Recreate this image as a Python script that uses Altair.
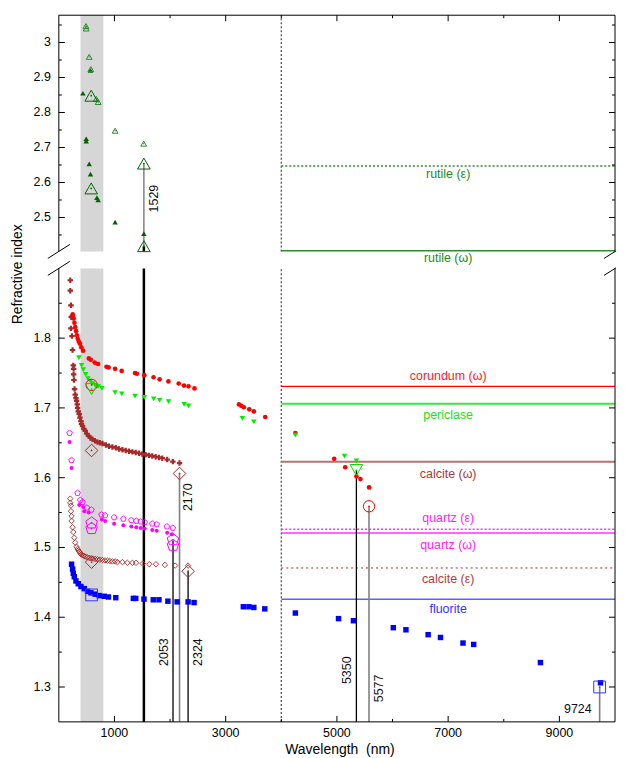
import altair as alt
import pandas as pd

FONT = "Liberation Sans"
W, H_TOP, H_BOT = 558, 237, 455
X_DOMAIN = [0, 10000]
Y_TOP = [2.403, 3.078]
Y_BOT = [1.25, 1.90]

# ---------------- data ----------------
visible_band = [390, 800]
boundary_nm = [4000]

rutile_o_nm = [433, 492, 492, 546, 569, 569, 684, 707, 1012, 1529]
rutile_o_n = [2.855, 2.725, 2.718, 2.653, 2.624, 2.920, 2.557, 2.550, 2.487, 2.454]
rutile_e_nm = [488, 492, 546, 575, 672, 707, 1012, 1526]
rutile_e_n = [3.047, 3.040, 2.959, 2.924, 2.839, 2.830, 2.748, 2.711]
rutile_big_nm = [582, 582, 1529, 1529]
rutile_big_n = [2.848, 2.583, 2.654, 2.418]

corundum_nm = [250, 268, 280, 295, 310, 325, 340, 360, 380, 403, 436, 540, 575, 645, 705,
               856, 895, 1012, 1130, 1370, 1403, 1537, 1702, 1812, 1970, 2155, 2250, 2332,
               2439, 3238, 3281, 3327, 3424, 3506, 3711, 4253, 4951, 5149, 5351, 5423, 5578]
corundum_n = [1.834, 1.828, 1.822, 1.816, 1.810, 1.804, 1.799, 1.795, 1.792, 1.787, 1.782,
              1.771, 1.769, 1.765, 1.763, 1.759, 1.758, 1.756, 1.753, 1.750, 1.749, 1.747,
              1.744, 1.741, 1.738, 1.735, 1.732, 1.731, 1.728, 1.705, 1.703, 1.701, 1.698,
              1.695, 1.687, 1.664, 1.627, 1.615, 1.602, 1.598, 1.586]
corundum_big_nm = [589, 5577]
corundum_big_n = [1.733, 1.559]

periclase_nm = [360, 409, 439, 481, 522, 569, 608, 656, 707, 774, 1012, 1132, 1370, 1537,
                1705, 1812, 1973, 2253, 2332, 3299, 3506, 4253, 5136, 5351]
periclase_n = [1.772, 1.761, 1.755, 1.748, 1.742, 1.738, 1.735, 1.732, 1.731, 1.728, 1.722,
               1.720, 1.717, 1.715, 1.713, 1.711, 1.709, 1.705, 1.703, 1.685, 1.680, 1.661,
               1.631, 1.624]
periclase_big_nm = [589, 5350]
periclase_big_n = [1.727, 1.611]

calcite_o_nm = [206, 206, 218, 224, 242, 218, 236, 247, 260, 266, 266, 272, 283, 295, 308,
                319, 331, 337, 349, 367, 380, 398, 408, 426, 451, 475, 505, 534, 569, 605,
                648, 695, 738, 784, 845, 904, 963, 1024, 1083, 1143, 1203, 1263, 1322, 1383,
                1442, 1501, 1561, 1621, 1680, 1741, 1800, 1859, 1948, 2050, 2170]
calcite_o_n = [1.883, 1.868, 1.847, 1.830, 1.832, 1.814, 1.803, 1.783, 1.761, 1.756, 1.748,
               1.740, 1.727, 1.719, 1.714, 1.710, 1.705, 1.700, 1.695, 1.691, 1.686, 1.681,
               1.677, 1.674, 1.670, 1.667, 1.663, 1.660, 1.657, 1.655, 1.653, 1.651, 1.650,
               1.649, 1.647, 1.645, 1.644, 1.643, 1.641, 1.640, 1.639, 1.638, 1.637, 1.636,
               1.635, 1.634, 1.633, 1.632, 1.631, 1.630, 1.629, 1.628, 1.626, 1.623, 1.621]
calcite_e_nm = [206, 206, 218, 218, 229, 229, 247, 260, 278, 295, 319, 337, 349, 367, 385,
                403, 426, 451, 475, 510, 546, 582, 618, 655, 695, 738, 784, 830, 874, 918,
                963, 1012, 1053, 1143, 1232, 1322, 1388, 1508, 1626, 1746, 1907, 2092, 2324]
calcite_e_n = [1.570, 1.564, 1.560, 1.552, 1.545, 1.538, 1.529, 1.522, 1.514, 1.507, 1.501,
               1.498, 1.496, 1.494, 1.492, 1.490, 1.489, 1.488, 1.487, 1.486, 1.485, 1.4845,
               1.484, 1.4835, 1.483, 1.4825, 1.482, 1.4815, 1.481, 1.4805, 1.480, 1.480,
               1.479, 1.479, 1.478, 1.478, 1.478, 1.477, 1.476, 1.476, 1.475, 1.474, 1.474]
calcite_big_nm = [589, 589, 2170, 2324]
calcite_big_n = [1.639, 1.479, 1.606, 1.466]

quartz_e_nm = [193, 229, 337, 385, 426, 505, 587, 766, 833, 994, 1160, 1304, 1393, 1472,
               1544, 1680, 1759, 1943, 2050]
quartz_e_n = [1.664, 1.625, 1.578, 1.568, 1.565, 1.557, 1.554, 1.547, 1.546, 1.543, 1.541,
              1.539, 1.538, 1.537, 1.536, 1.534, 1.533, 1.530, 1.528]
quartz_o_nm = [193, 229, 367, 439, 457, 534, 774, 833, 994, 1160, 1304, 1393, 1472, 1544,
               1680, 1759, 1948, 2033]
quartz_o_n = [1.651, 1.614, 1.561, 1.558, 1.552, 1.550, 1.540, 1.538, 1.534, 1.532, 1.530,
              1.529, 1.528, 1.527, 1.525, 1.524, 1.521, 1.519]
quartz_big_nm = [589, 589, 2053, 2053]
quartz_big_n = [1.535, 1.527, 1.511, 1.503]

fluorite_nm = [229, 247, 260, 278, 308, 349, 398, 457, 516, 577, 654, 725, 815, 892, 1024,
               1340, 1383, 1531, 1698, 1800, 1961, 2127, 2324, 2432, 3317, 3417, 3506, 3703,
               4253, 5029, 5297, 6014, 6241, 6640, 6862, 7267, 7459, 8659, 9739]
fluorite_n = [1.476, 1.469, 1.463, 1.458, 1.452, 1.448, 1.444, 1.441, 1.437, 1.435, 1.433,
              1.431, 1.430, 1.429, 1.428, 1.427, 1.427, 1.426, 1.425, 1.425, 1.423, 1.422,
              1.422, 1.421, 1.415, 1.415, 1.414, 1.412, 1.406, 1.398, 1.395, 1.385, 1.382,
              1.375, 1.371, 1.363, 1.361, 1.335, 1.306]
fluorite_big_nm = [589, 9724]
fluorite_big_n = [1.432, 1.300]

ref_names = ["corundum (ω)", "periclase", "calcite (ω)", "quartz (ε)", "quartz (ω)",
             "calcite (ε)", "fluorite"]
ref_n = [1.731, 1.706, 1.623, 1.526, 1.5206, 1.4706, 1.4257]
rutile_ref_names = ["rutile (ε)", "rutile (ω)"]
rutile_ref_n = [2.647, 2.405]

mark_nm = [2053, 2170, 2324, 5350, 5577, 9724]
mark_n = [1.510, 1.606, 1.466, 1.611, 1.559, 1.300]
mark_labels = ["2053", "2170", "2324", "5350", "5577", "9724"]
rutile_mark_nm = [1529]
rutile_mark_n = [2.418, 2.654]

top_major = [2.5, 2.6, 2.7, 2.8, 2.9, 3.0]
top_minor = [2.45, 2.55, 2.65, 2.75, 2.85, 2.95, 3.05]
bot_major = [1.3, 1.4, 1.5, 1.6, 1.7, 1.8]
bot_minor = [1.35, 1.45, 1.55, 1.65, 1.75, 1.85]
x_major = [1000, 3000, 5000, 7000, 9000]
x_minor = [2000, 4000, 6000, 8000]
y_title = "Refractive index"
x_title = "Wavelength\u00a0\u00a0(nm)"

# ---------------- helpers ----------------
PENTAGON = "M0,-1L0.951,-0.309L0.588,0.809L-0.588,0.809L-0.951,-0.309Z"
LABEL_X = 7000


def xsc():
    return alt.Scale(domain=X_DOMAIN, nice=False, zero=False)


def ysc(dom):
    return alt.Scale(domain=dom, nice=False, zero=False)


def XF(f):
    return alt.X(f, type="quantitative", scale=xsc(), axis=None)


def YF(f, dom):
    return alt.Y(f, type="quantitative", scale=ysc(dom), axis=None)


def points(nm, n, dom, shape, size, color, filled, sw=1.0):
    df = pd.DataFrame({"nm": nm, "n": n})
    if filled:
        m = alt.Chart(df).mark_point(shape=shape, size=size, filled=True, color=color,
                                     opacity=1, strokeWidth=0)
    else:
        m = alt.Chart(df).mark_point(shape=shape, size=size, filled=False, color=color,
                                     opacity=1, strokeWidth=sw)
    return m.encode(x=XF("nm"), y=YF("n", dom))


def big(nm, n, dom, shape, size, color):
    return [points(nm, n, dom, shape, size, color, False, 1.0),
            points(nm, n, dom, "circle", 3, color, True)]


def vspan(xv, dom, **mk):
    df = pd.DataFrame({"x": xv, "y0": [dom[0]] * len(xv), "y1": [dom[1]] * len(xv)})
    return alt.Chart(df).mark_rule(**mk).encode(x=XF("x"), y=YF("y0", dom), y2="y1")


def band(dom):
    df = pd.DataFrame({"a": [visible_band[0]], "b": [visible_band[1]],
                       "y0": [dom[0]], "y1": [dom[1]]})
    return alt.Chart(df).mark_rect(color="#d6d6d6").encode(
        x=XF("a"), x2="b", y=YF("y0", dom), y2="y1")


def refline(name, n, dom, color, width, dash, lcolor, dy):
    df = pd.DataFrame({"name": [name], "n": [n], "x0": [boundary_nm[0]],
                       "x1": [X_DOMAIN[1]], "lx": [LABEL_X]})
    kw = dict(color=color, strokeWidth=width)
    if dash:
        kw["strokeDash"] = dash
    rule = alt.Chart(df).mark_rule(**kw).encode(x=XF("x0"), x2="x1", y=YF("n", dom))
    txt = alt.Chart(df).mark_text(font=FONT, fontSize=12.5, color=lcolor, dy=dy,
                                  baseline="middle").encode(
        x=XF("lx"), y=YF("n", dom), text="name:N")
    return [rule, txt]


def ticks_y(vals, dom, side, size):
    xv = X_DOMAIN[0] if side == "left" else X_DOMAIN[1]
    off = size if side == "left" else -size
    df = pd.DataFrame({"v": vals, "x": [xv] * len(vals)})
    return alt.Chart(df).mark_rule(color="black", strokeWidth=1, x2Offset=off).encode(
        x=XF("x"), x2="x", y=YF("v", dom))


def ticks_x(vals, dom, side, size):
    yv = dom[1] if side == "top" else dom[0]
    off = size if side == "top" else -size
    df = pd.DataFrame({"v": vals, "y": [yv] * len(vals)})
    return alt.Chart(df).mark_rule(color="black", strokeWidth=1, y2Offset=off).encode(
        x=XF("v"), y=YF("y", dom), y2="y")


def ylabels(vals, dom):
    df = pd.DataFrame({"v": vals, "x": [X_DOMAIN[0]] * len(vals),
                       "t": [f"{v:g}" for v in vals]})
    return alt.Chart(df).mark_text(font=FONT, fontSize=12.5, color="black", align="right",
                                   baseline="middle", dx=-8).encode(
        x=XF("x"), y=YF("v", dom), text="t:N")


def xlabels(vals, dom):
    df = pd.DataFrame({"v": vals, "y": [dom[0]] * len(vals), "t": [f"{v:d}" for v in vals]})
    return alt.Chart(df).mark_text(font=FONT, fontSize=12.5, color="black", align="center",
                                   baseline="top", dy=5).encode(
        x=XF("v"), y=YF("y", dom), text="t:N")


def edge_h(yv, dom):
    df = pd.DataFrame({"x0": [X_DOMAIN[0]], "x1": [X_DOMAIN[1]], "y": [yv]})
    return alt.Chart(df).mark_rule(color="black", strokeWidth=1).encode(
        x=XF("x0"), x2="x1", y=YF("y", dom))


def brk(yv, dom):
    dl = pd.DataFrame({"x": [X_DOMAIN[0]], "y": [yv]})
    dr = pd.DataFrame({"x": [X_DOMAIN[1]], "y": [yv]})
    left = alt.Chart(dl).mark_rule(color="black", strokeWidth=1, xOffset=-11, x2Offset=11,
                                   yOffset=7, y2Offset=-7).encode(
        x=XF("x"), x2="x", y=YF("y", dom), y2="y")
    right = alt.Chart(dr).mark_rule(color="black", strokeWidth=1, xOffset=-11, x2Offset=1,
                                    yOffset=7, y2Offset=-0.5).encode(
        x=XF("x"), x2="x", y=YF("y", dom), y2="y")
    return [left, right]


def vlabel(text, nm, n, dom, dy):
    df = pd.DataFrame({"t": [text], "nm": [nm], "n": [n]})
    return alt.Chart(df).mark_text(font=FONT, fontSize=12.5, color="#111111", angle=270,
                                   align="center", baseline="middle", dy=dy).encode(
        x=XF("nm"), y=YF("n", dom), text="t:N")


# ---------------- top panel (rutile) ----------------
T = Y_TOP
top_layers = [band(T), vspan(boundary_nm, T, color="#555555", strokeWidth=1.3, strokeDash=[2, 2])]
top_layers += refline(rutile_ref_names[0], rutile_ref_n[0], T, "#2e8b2e", 1.5, [2, 2], "#228b22", 8)
top_layers += refline(rutile_ref_names[1], rutile_ref_n[1], T, "#2e8b2e", 1.5, None, "#228b22", 7)

rdf = pd.DataFrame({"nm": rutile_mark_nm, "lo": [rutile_mark_n[0]], "hi": [rutile_mark_n[1]],
                    "b": [T[0]]})
top_layers.append(alt.Chart(rdf).mark_rule(color="#808080", strokeWidth=1.5).encode(
    x=XF("nm"), y=YF("lo", T), y2="hi"))
top_layers.append(alt.Chart(rdf).mark_rule(color="black", strokeWidth=2.5).encode(
    x=XF("nm"), y=YF("b", T), y2="lo"))

top_layers.append(points(rutile_o_nm, rutile_o_n, T, "triangle-up", 30, "#006400", True))
top_layers.append(points(rutile_e_nm, rutile_e_n, T, "triangle-up", 34, "#2e8b2e", False, 1.0))
top_layers.append(points(rutile_e_nm, rutile_e_n, T, "circle", 2, "#2e8b2e", True))
top_layers += big(rutile_big_nm, rutile_big_n, T, "triangle-up", 160, "#006400")
top_layers.append(vlabel("1529", rutile_mark_nm[0], 2.554, T, 10))

top_layers += [
    ticks_y(top_major, T, "left", 6), ticks_y(top_minor, T, "left", 3),
    ticks_y(top_major, T, "right", 6), ticks_y(top_minor, T, "right", 3),
    ticks_x(x_major, T, "top", 6), ticks_x(x_minor, T, "top", 3),
    vspan(X_DOMAIN, T, color="black", strokeWidth=1), edge_h(T[1], T),
    ylabels(top_major, T),
]
top_layers += brk(T[0], T)
top = alt.layer(*top_layers).properties(width=W, height=H_TOP)

# ---------------- bottom panel ----------------
B = Y_BOT
bl = [band(B), vspan(boundary_nm, B, color="#555555", strokeWidth=1.3, strokeDash=[2, 2])]
styles = [
    ("#ff0000", 1.2, None, "#ff1a1a", -10),
    ("#3ce63c", 2.0, None, "#22dd22", 11),
    ("#bb7070", 2.0, None, "#a83a3a", 12),
    ("#ff33ff", 1.5, [2, 2], "#ff22ff", -11),
    ("#ff33ff", 1.5, None, "#ff22ff", 12),
    ("#a52a2a", 1.0, [2, 3], "#b04040", 11),
    ("#6060ff", 1.5, None, "#3333ff", 10),
]
for name, n, st in zip(ref_names, ref_n, styles):
    bl += refline(name, n, B, *st)

bl.append(vspan(rutile_mark_nm, B, color="black", strokeWidth=2.5))

line_colors = ["black", "#808080", "black", "black", "#808080", "#808080"]
line_widths = [1.3, 1.6, 1.3, 1.3, 1.6, 1.6]
for nm, n, c, w in zip(mark_nm, mark_n, line_colors, line_widths):
    d = pd.DataFrame({"nm": [nm], "n": [n], "b": [B[0]]})
    bl.append(alt.Chart(d).mark_rule(color=c, strokeWidth=w).encode(
        x=XF("nm"), y=YF("b", B), y2="n"))

bl.append(points(calcite_o_nm, calcite_o_n, B, "cross", 30, "#a52a2a", True))
bl.append(points(calcite_e_nm, calcite_e_n, B, "diamond", 30, "#a52a2a", False, 0.9))
bl.append(points(quartz_e_nm, quartz_e_n, B, PENTAGON, 34, "#ff00ff", False, 0.9))
bl.append(points(quartz_o_nm, quartz_o_n, B, "circle", 16, "#ff00ff", True))
bl.append(points(fluorite_nm, fluorite_n, B, "square", 30, "#0000ff", True))
bl.append(points(corundum_nm, corundum_n, B, "circle", 22, "#ff0000", True))
bl.append(points(periclase_nm, periclase_n, B, "triangle-down", 30, "#00ee00", True))

bl += big(calcite_big_nm, calcite_big_n, B, "diamond", 160, "#a52a2a")
bl += big(quartz_big_nm, quartz_big_n, B, PENTAGON, 150, "#ff00ff")
bl += big(fluorite_big_nm, fluorite_big_n, B, "square", 140, "#3333ff")
bl += big(corundum_big_nm, corundum_big_n, B, "circle", 130, "#ff0000")
bl += big(periclase_big_nm, periclase_big_n, B, "triangle-down", 160, "#00dd00")

label_n = [1.350, 1.572, 1.350, 1.324, 1.298]
label_dy = [-9, 9, 10, -9, 10]
for t, nm, n, dy in zip(mark_labels[:5], mark_nm[:5], label_n, label_dy):
    bl.append(vlabel(t, nm, n, B, dy))
d9 = pd.DataFrame({"t": [mark_labels[5]], "nm": [mark_nm[5]], "n": [1.268]})
bl.append(alt.Chart(d9).mark_text(font=FONT, fontSize=12.5, color="#111111", align="right",
                                  baseline="middle", dx=-8).encode(
    x=XF("nm"), y=YF("n", B), text="t:N"))

# axis titles as text anchored to the panel corners
dyt = pd.DataFrame({"t": [y_title], "x": [X_DOMAIN[0]], "y": [B[1]]})
bl.append(alt.Chart(dyt).mark_text(font=FONT, fontSize=14, color="black", angle=270,
                                   align="center", baseline="middle", dx=-6, dy=-41).encode(
    x=XF("x"), y=YF("y", B), text="t:N"))
dxt = pd.DataFrame({"t": [x_title], "x": [sum(X_DOMAIN) / 2], "y": [B[0]]})
bl.append(alt.Chart(dxt).mark_text(font=FONT, fontSize=14, color="black", align="center",
                                   baseline="alphabetic", dx=3, dy=32).encode(
    x=XF("x"), y=YF("y", B), text="t:N"))

bl += [
    ticks_y(bot_major, B, "left", 6), ticks_y(bot_minor, B, "left", 3),
    ticks_y(bot_major, B, "right", 6), ticks_y(bot_minor, B, "right", 3),
    ticks_x(x_major, B, "bottom", 6), ticks_x(x_minor, B, "bottom", 3),
    vspan(X_DOMAIN, B, color="black", strokeWidth=1), edge_h(B[0], B),
    ylabels(bot_major, B), xlabels(x_major, B),
]
bl += brk(B[1], B)
bottom = alt.layer(*bl).properties(width=W, height=H_BOT)

chart = alt.vconcat(top, bottom, spacing=17, bounds="flush").properties(
    padding={"left": 2, "top": 5, "right": 0, "bottom": 0}
).configure_view(stroke=None)

chart.save("out.html", embed_options={"renderer": "svg", "actions": False})
